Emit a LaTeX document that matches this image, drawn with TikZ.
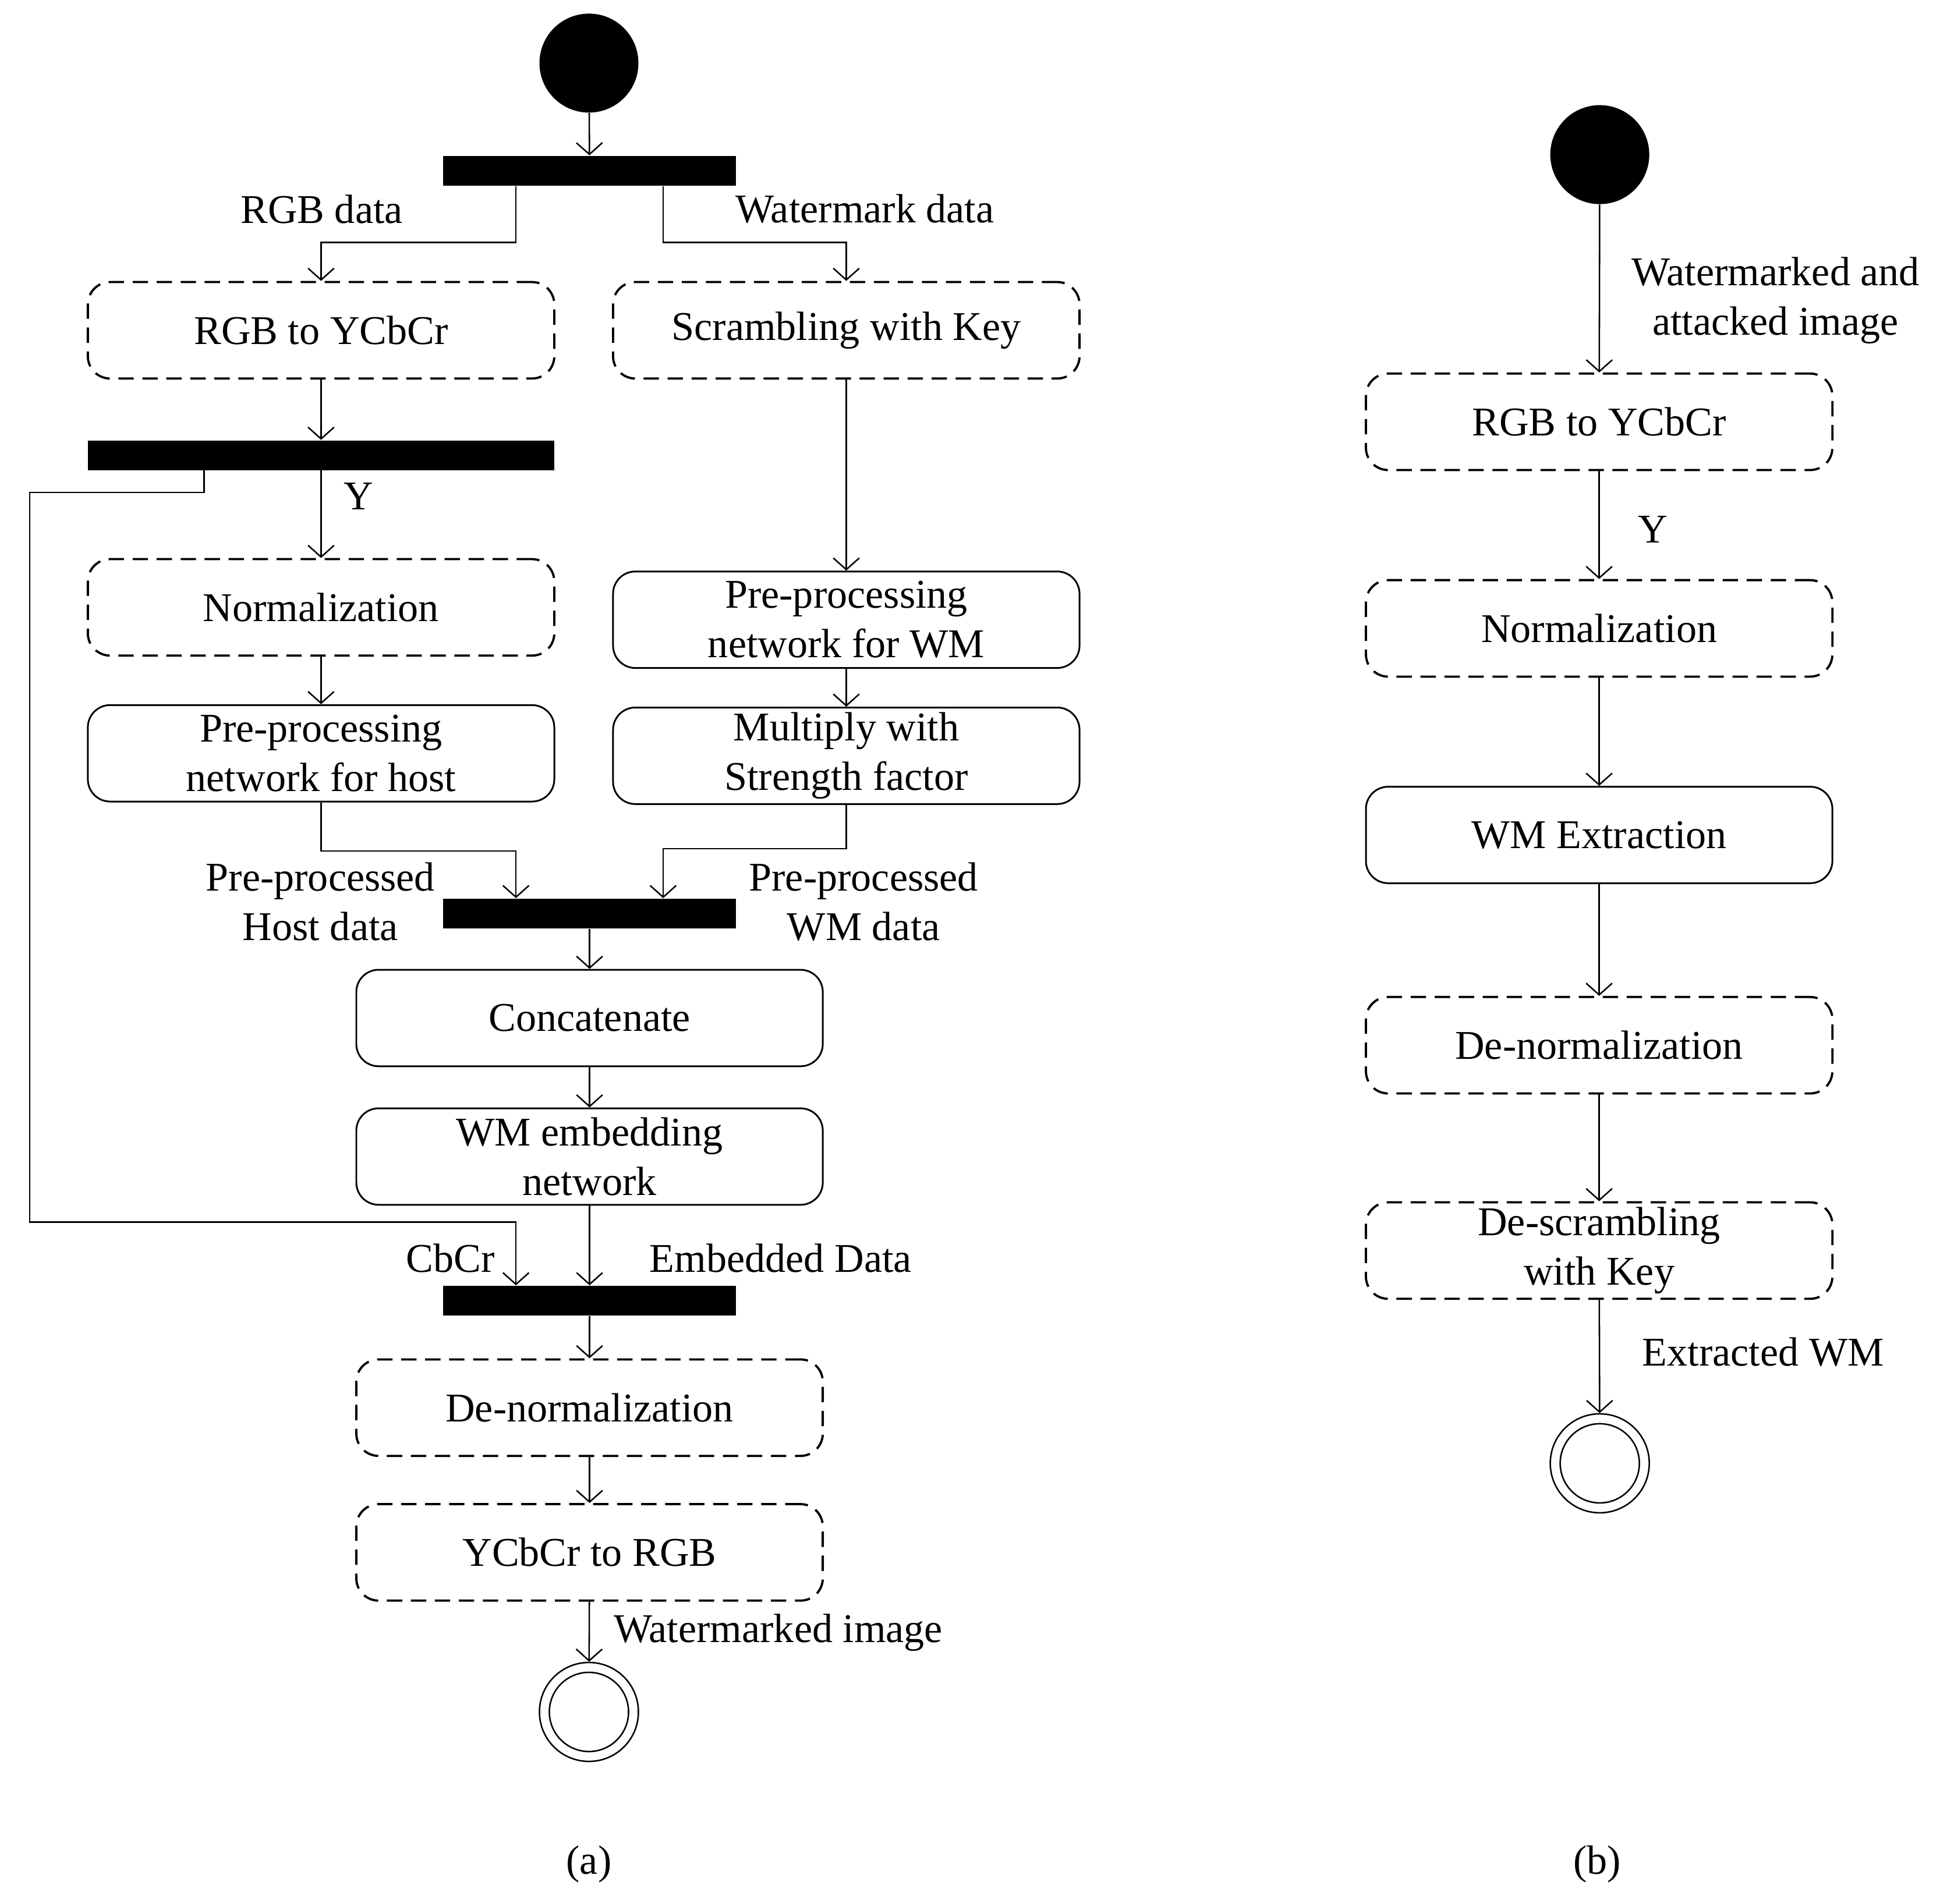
\documentclass[tikz,border=0pt]{standalone}
\usepackage{fontspec}
\setmainfont{Liberation Serif}
\usetikzlibrary{arrows.meta}

\begin{document}
\begin{tikzpicture}[x=0.5pt,y=-0.5pt,
  every node/.style={font=\fontsize{16.5}{20}\selectfont},
  act/.style={draw,line width=0.7pt,rounded corners=9pt,minimum width=188.5pt,minimum height=39pt,align=center,inner sep=2pt},
  dact/.style={act,line width=0.9pt,dash pattern=on 6.2pt off 3.5pt},
  bar/.style={fill,inner sep=0pt,minimum height=12pt},
  start/.style={circle,fill,inner sep=0pt,minimum size=40pt},
  stop/.style={circle,draw,line width=0.6pt,inner sep=0pt,minimum size=40pt},
  flow/.style={line width=0.6pt,-{Straight Barb[length=4.7pt,width=10.5pt]}}]
  \useasboundingbox (0,0) rectangle (1568,1539);

  % (a) embedding
  \node[start] (start) at (476,51) {};
  \foreach \n/\x/\y/\w in {fork1/476.5/138/118.5pt, fork2/259.5/368/188.5pt,
                           fork3/476.5/738.5/118.5pt, fork4/476.5/1051.5/118.5pt}
    \node[bar,minimum width=\w] (\n) at (\x,\y) {};
  \node[dact] (rgbycc) at (259.5,267) {RGB to YCbCr};
  \node[dact] (scramble) at (684,267) {Scrambling with Key};
  \node[dact] (norm) at (259.5,491) {Normalization};
  \node[act] (prehost) at (259.5,609) {Pre-processing\\network for host};
  \node[act] (prewm) at (684,501) {Pre-processing\\network for WM};
  \node[act] (multiply) at (684,611) {Multiply with\\Strength factor};
  \node[act] (concat) at (476.5,823) {Concatenate};
  \node[act] (embed) at (476.5,935) {WM embedding\\network};
  \node[dact] (denorm) at (476.5,1138) {De-normalization};
  \node[dact] (ycc2rgb) at (476.5,1255) {YCbCr to RGB};
  \node[stop] (stop) at (476,1384) {};
  \draw[line width=0.6pt] (stop.center) circle (16pt);

  \coordinate (l1) at (417,196);
  \coordinate (r1) at (536,196);
  \coordinate (cb1) at (165,398);
  \coordinate (cb2) at (24,988);
  \coordinate (cb3) at (417,988);
  \coordinate (hj) at (417,688);
  \coordinate (wj) at (536,686);

  \draw[flow] (start) -- (fork1);
  \draw[flow] (fork1.south -| l1) -- (l1) -| (rgbycc);
  \draw[flow] (fork1.south -| r1) -- (r1) -| (scramble);
  \draw[flow] (rgbycc) -- (fork2);
  \draw[flow] (fork2) -- (norm);
  \draw[flow] (fork2.south -| cb1) -- (cb1) -| (cb2) -- (cb3) -- (fork4.north -| cb3);
  \draw[flow] (norm) -- (prehost);
  \draw[flow] (scramble) -- (prewm);
  \draw[flow] (prewm) -- (multiply);
  \draw[flow] (prehost.south) |- (hj) -- (fork3.north -| hj);
  \draw[flow] (multiply.south) |- (wj) -- (fork3.north -| wj);
  \draw[flow] (fork3) -- (concat);
  \draw[flow] (concat) -- (embed);
  \draw[flow] (embed) -- (fork4);
  \draw[flow] (fork4) -- (denorm);
  \draw[flow] (denorm) -- (ycc2rgb);
  \draw[flow] (ycc2rgb) -- (stop);

  \node (trgb) at (260,169) {RGB data};
  \node (twm) at (699,169) {Watermark data};
  \node (ty) at (290,401) {Y};
  \node[align=center] (thost) at (259,729) {Pre-processed\\Host data};
  \node[align=center] (twmd) at (698,729) {Pre-processed\\WM data};
  \node (tcbcr) at (364,1017) {CbCr};
  \node (temb) at (631,1017) {Embedded Data};
  \node (tout) at (629,1320) {Watermarked image};
  \node (capa) at (476,1507) {(a)};

  % (b) extraction
  \node[start] (startb) at (1293,125) {};
  \node[dact] (rgbyccb) at (1292.5,341) {RGB to YCbCr};
  \node[dact] (normb) at (1292.5,508) {Normalization};
  \node[act] (extract) at (1292.5,675) {WM Extraction};
  \node[dact] (denormb) at (1292.5,845) {De-normalization};
  \node[dact] (descramb) at (1292.5,1011) {De-scrambling\\with Key};
  \node[stop] (stopb) at (1293,1183) {};
  \draw[line width=0.6pt] (stopb.center) circle (16pt);

  \draw[flow] (startb) -- (rgbyccb);
  \draw[flow] (rgbyccb) -- (normb);
  \draw[flow] (normb) -- (extract);
  \draw[flow] (extract) -- (denormb);
  \draw[flow] (denormb) -- (descramb);
  \draw[flow] (descramb) -- (stopb);

  \node[align=center] (tin) at (1435,243) {Watermarked and\\attacked image};
  \node (tyb) at (1336,428) {Y};
  \node (text) at (1425,1093) {Extracted WM};
  \node (capb) at (1291,1507) {(b)};
\end{tikzpicture}
\end{document}
